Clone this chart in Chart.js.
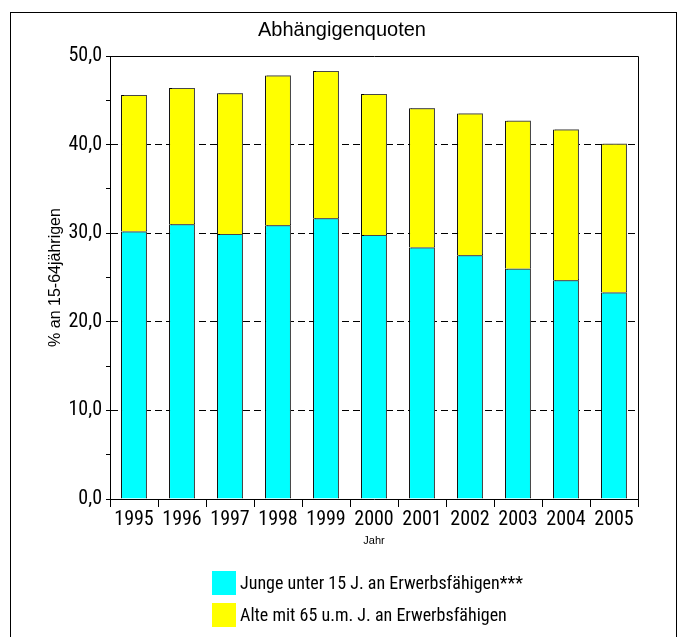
<!DOCTYPE html>
<html>
<head>
<meta charset="utf-8">
<script src="https://cdn.jsdelivr.net/npm/chart.js@4"></script>
<style>
  html, body { margin: 0; padding: 0; background: #fff; }
  #wrap { width: 683px; height: 637px; }
</style>
</head>
<body>
<div id="wrap"><canvas id="chartQuoten" width="683" height="637"></canvas></div>
<script>
// values
const years = ["1995", "1996", "1997", "1998", "1999", "2000", "2001", "2002", "2003", "2004", "2005"];
const junge = [30.2, 31.0, 29.9, 30.9, 31.7, 29.8, 28.4, 27.5, 26.0, 24.7, 23.3];
const alte = [15.4, 15.4, 15.9, 16.9, 16.6, 15.9, 15.7, 16.0, 16.7, 17.0, 16.8];
const seriesLabels = ["Junge unter 15 J. an Erwerbsfähigen***", "Alte mit 65 u.m. J. an Erwerbsfähigen"];
const chartTitle = "Abhängigenquoten";
const yTitle = "% an 15-64jährigen";
const xTitle = "Jahr";

(function () {
  "use strict";

  const NARROW = "'Roboto Condensed', 'Liberation Sans', Arial, sans-serif";
  const SANS = "'Liberation Sans', Arial, sans-serif";

  // outer frame, box round the plot, bar shadows and the legend underneath
  const framePlugin = {
    id: "frame",
    beforeDraw(chart) {
      const ctx = chart.ctx;
      ctx.save();
      ctx.fillStyle = "#fff";
      ctx.fillRect(0, 0, chart.width, chart.height);
      ctx.strokeStyle = "#000";
      ctx.lineWidth = 1;
      ctx.strokeRect(10.5, 12.5, 666, 640);
      ctx.restore();
    },
    beforeDatasetsDraw(chart) {
      const ctx = chart.ctx;
      ctx.save();
      ctx.shadowColor = "rgba(90,90,90,0.8)";
      ctx.shadowOffsetX = 2;
      ctx.shadowOffsetY = -1;
      ctx.shadowBlur = 0;
    },
    afterDatasetsDraw(chart) {
      chart.ctx.restore();
    },
    afterDraw(chart) {
      const ctx = chart.ctx;
      const a = chart.chartArea;
      ctx.save();
      ctx.strokeStyle = "#000";
      ctx.lineWidth = 1;
      ctx.beginPath();
      ctx.moveTo(Math.round(a.left) + 0.5, Math.round(a.top) + 0.5);
      ctx.lineTo(Math.round(a.right) + 0.5, Math.round(a.top) + 0.5);
      ctx.lineTo(Math.round(a.right) + 0.5, Math.round(a.bottom) + 0.5);
      ctx.stroke();

      // legend
      ctx.font = "18px " + NARROW;
      ctx.textBaseline = "middle";
      chart.data.datasets.forEach((ds, i) => {
        const y = 571 + i * 32;
        ctx.fillStyle = ds.backgroundColor;
        ctx.fillRect(212, y, 24, 24);
        ctx.fillStyle = "#000";
        ctx.fillText(ds.label, 240, y + 13);
      });
      ctx.restore();
    },
  };

  const barStyle = { borderColor: "#000", borderWidth: 1, barPercentage: 0.54, categoryPercentage: 1 };

  new Chart(document.getElementById("chartQuoten").getContext("2d"), {
    type: "bar",
    data: {
      labels: years,
      datasets: [
        { label: seriesLabels[0], data: junge, backgroundColor: "#00ffff", ...barStyle },
        { label: seriesLabels[1], data: alte, backgroundColor: "#ffff00", ...barStyle },
      ],
    },
    options: {
      responsive: false,
      animation: false,
      devicePixelRatio: 1,
      layout: { padding: { left: 46, right: 45, top: 0, bottom: 88 } },
      plugins: {
        legend: { display: false },
        tooltip: { enabled: false },
        title: {
          display: true,
          text: chartTitle,
          color: "#000",
          font: { family: SANS, size: 20, weight: "normal" },
          padding: { top: 18, bottom: 14 },
        },
      },
      scales: {
        x: {
          stacked: true,
          afterFit(scale) { scale.height = 50; },
          grid: { display: true, offset: true, drawOnChartArea: false, tickLength: 8, tickColor: "#000" },
          border: { display: true, color: "#000", width: 1 },
          ticks: { color: "#000", font: { family: NARROW, size: 20 }, padding: 1, maxRotation: 0, autoSkip: false },
          title: { display: true, text: xTitle, color: "#000", font: { family: SANS, size: 11 }, padding: { top: 0, bottom: 1 } },
        },
        y: {
          stacked: true,
          min: 0,
          max: 50,
          afterFit(scale) { scale.width = 64; },
          grid: {
            color: (c) => (c.tick && c.tick.value % 10 === 0 && c.tick.value > 0 && c.tick.value < 50 ? "#000" : "rgba(0,0,0,0)"),
            tickColor: "#000",
            tickLength: 4,
          },
          border: { display: true, color: "#000", width: 1, dash: [7, 4] },
          ticks: {
            stepSize: 5,
            autoSkip: false,
            color: "#000",
            padding: 4,
            font: { family: NARROW, size: 20 },
            callback: (v) => (v % 10 === 0 ? v.toFixed(1).replace(".", ",") : ""),
          },
          title: { display: true, text: yTitle, color: "#000", font: { family: SANS, size: 16 }, padding: { top: 0, bottom: 0 } },
        },
      },
    },
    plugins: [framePlugin],
  });
})();
</script>
</body>
</html>
